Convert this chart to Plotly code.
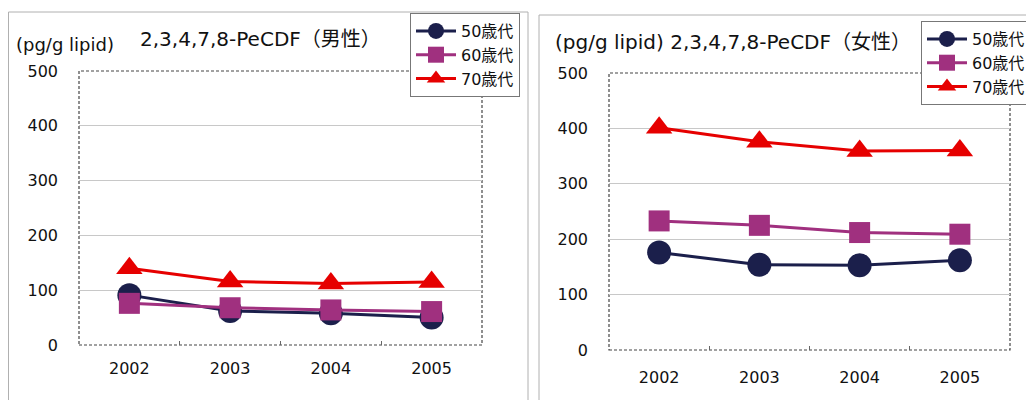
import plotly.graph_objects as go

years = ["2002", "2003", "2004", "2005"]
series_names = ["50歳代", "60歳代", "70歳代"]
male_50 = [91, 62, 58, 50]
male_60 = [76, 68, 64, 61]
male_70 = [140, 116, 112, 115]
female_50 = [176, 154, 153, 162]
female_60 = [233, 225, 212, 209]
female_70 = [401, 376, 359, 360]
y_ticks = [0, 100, 200, 300, 400, 500]

colors = ["#1b1f4b", "#a0307f", "#e60000"]
symbols = ["circle", "square", "triangle-up"]
sizes = [24, 21, 23]
FONT = "DejaVu Sans, Noto Sans CJK JP"
OFF = 8  # page body margin
W, H = 1034 - OFF, 400 - OFF

fig = go.Figure()
male = [male_50, male_60, male_70]
female = [female_50, female_60, female_70]
for i, name in enumerate(series_names):
    fig.add_trace(go.Scatter(x=years, y=male[i], name=name, mode="lines+markers",
                             line=dict(color=colors[i], width=3),
                             marker=dict(symbol=symbols[i], size=sizes[i], color=colors[i]),
                             xaxis="x", yaxis="y", legend="legend"))
for i, name in enumerate(series_names):
    fig.add_trace(go.Scatter(x=years, y=female[i], name=name, mode="lines+markers",
                             line=dict(color=colors[i], width=3),
                             marker=dict(symbol=symbols[i], size=sizes[i], color=colors[i]),
                             xaxis="x2", yaxis="y2", legend="legend2"))

def px_x(v):
    return (v - OFF) / W

def px_y(v):
    return 1 - (v - OFF) / H

axis_common = dict(showline=False, zeroline=False,
                   tickfont=dict(family=FONT, size=16, color="#111"))
xcommon = dict(type="category", range=[-0.5, 3.5], showgrid=False, ticks="inside",
               tickson="boundaries", ticklen=4, tickcolor="#666")
legend_common = dict(xanchor="left", yanchor="top", bgcolor="white", bordercolor="#777",
                     borderwidth=1, font=dict(family=FONT, size=16, color="#111"),
                     tracegroupgap=0, itemwidth=40)
fig.update_layout(
    width=W, height=H, margin=dict(l=0, r=0, t=0, b=0, autoexpand=False),
    paper_bgcolor="white", plot_bgcolor="white",
    font=dict(family=FONT, color="#111"),
    xaxis=dict(domain=[px_x(79), px_x(482)], anchor="y", ticklabelstandoff=12,
               **xcommon, **axis_common),
    yaxis=dict(domain=[px_y(345), px_y(71)], anchor="x", range=[0, 500],
               tickvals=y_ticks, showgrid=True, gridcolor="#c8c8c8", ticks="",
               ticklabelstandoff=20, **axis_common),
    xaxis2=dict(domain=[px_x(609), px_x(1010)], anchor="y2", ticklabelstandoff=16,
                **xcommon, **axis_common),
    yaxis2=dict(domain=[px_y(350), px_y(73)], anchor="x2", range=[0, 500],
                tickvals=y_ticks, showgrid=True, gridcolor="#c8c8c8", ticks="",
                ticklabelstandoff=20, **axis_common),
    legend=dict(x=px_x(410), y=px_y(13), **legend_common),
    legend2=dict(x=px_x(921), y=px_y(21), **legend_common),
    showlegend=True,
)

shapes = [
    dict(type="rect", xref="paper", yref="paper", x0=px_x(8.5), x1=px_x(528),
         y0=-0.05, y1=px_y(12), line=dict(color="#b0b0b0", width=1), layer="below"),
    dict(type="rect", xref="paper", yref="paper", x0=px_x(539), x1=1.05,
         y0=-0.05, y1=px_y(15), line=dict(color="#b0b0b0", width=1), layer="below"),
    dict(type="rect", xref="x domain", yref="y domain", x0=0, x1=1, y0=0, y1=1,
         line=dict(color="#444", width=1.2, dash="3px,2px"), layer="below"),
    dict(type="rect", xref="x2 domain", yref="y2 domain", x0=0, x1=1, y0=0, y1=1,
         line=dict(color="#444", width=1.2, dash="3px,2px"), layer="below"),
]
fig.update_layout(shapes=shapes)

fig.add_annotation(x=px_x(14), y=px_y(44), xref="paper", yref="paper", xanchor="left",
                   yanchor="middle", showarrow=False, text="(pg/g lipid)",
                   font=dict(family=FONT, size=18, color="#111"))
fig.add_annotation(x=px_x(138), y=px_y(39), xref="paper", yref="paper", xanchor="left",
                   yanchor="middle", showarrow=False, text="2,3,4,7,8-PeCDF（男性）",
                   font=dict(family=FONT, size=20, color="#111"))
fig.add_annotation(x=px_x(553), y=px_y(42), xref="paper", yref="paper", xanchor="left",
                   yanchor="middle", showarrow=False, text="(pg/g lipid) 2,3,4,7,8-PeCDF（女性）",
                   font=dict(family=FONT, size=20, color="#111"))

fig.write_html("out.html")
